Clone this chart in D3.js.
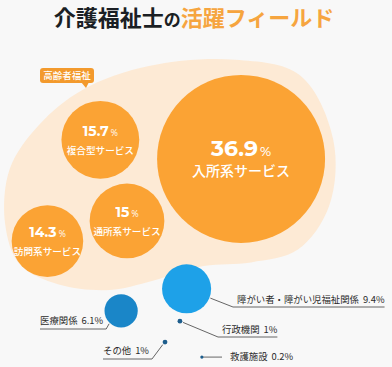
<!DOCTYPE html>
<html>
<head>
<meta charset="utf-8">
<script src="https://cdn.jsdelivr.net/npm/d3@7"></script>
<style>
  html, body { margin: 0; padding: 0; background: #f8f8f8; }
  svg { display: block; font-family: "Noto Sans CJK JP", "Noto Sans", sans-serif; }
</style>
</head>
<body>
<svg id="chart" width="392" height="367"></svg>
<script>
// data
const categories = ['入所系サービス', '複合型サービス', '通所系サービス', '訪問系サービス',
  '障がい者・障がい児福祉関係', '医療関係', '行政機関', 'その他', '救護施設'];
const shares = [36.9, 15.7, 15, 14.3, 9.4, 6.1, 1, 1, 0.2];
const groups = ['elderly', 'elderly', 'elderly', 'elderly', 'other', 'other', 'other', 'other', 'other'];
const groupLabel = '高齢者福祉';

// layout (percent of width / height)
const posX = [61.5, 25.6, 32.4, 12.1, 47.6, 30.9, 45.9, 42.1, 51.5];
const posY = [43.3, 38.1, 60.2, 65.7, 78.7, 84.7, 87.5, 93.2, 97.3];
const blobX = [60, 76.5, 85, 84, 76, 64, 52, 39, 28, 15, 5, 1.3, 2.5, 10, 21, 38];
const blobY = [16.3, 20.5, 38, 56, 68, 71.5, 72.5, 76.5, 79, 77.5, 72, 61, 46, 34, 24.5, 18];

const W = 392, H = 367;
const svg = d3.select('#chart');
const x = d3.scaleLinear().domain([0, 100]).range([0, W]);
const y = d3.scaleLinear().domain([0, 100]).range([0, H]);
const r = d3.scalePow().exponent(0.9).domain([0, 36.9]).range([0, 84]);
const dotR = d3.scaleLinear().domain([0.2, 1]).range([1.6, 2.4]);
const radius = v => v < 2 ? dotR(v) : r(v);

const nodes = categories.map((c, i) => ({
  name: c, value: shares[i], group: groups[i], x: x(posX[i]), y: y(posY[i]), r: radius(shares[i])
}));

// title
const title = svg.append('text')
  .attr('x', W / 2 - 2)
  .attr('y', 26)
  .attr('text-anchor', 'middle')
  .style('font-weight', 700)
  .style('font-size', '22px');
title.append('tspan').attr('fill', '#1b1f24').text('介護福祉士');
title.append('tspan').attr('fill', '#1b1f24').style('font-size', '17px').text('の');
title.append('tspan').attr('fill', '#f6a53f').text('活躍フィールド');

// blob behind elderly group
const blobLine = d3.line()
  .x((d, i) => x(blobX[i]))
  .y((d, i) => y(blobY[i]))
  .curve(d3.curveCatmullRomClosed.alpha(0.5));

svg.append('path')
  .attr('d', blobLine(blobX))
  .attr('fill', '#fdead5');

// group tag
const tag = svg.append('g').attr('transform', 'translate(40,68)');
tag.append('rect')
  .attr('width', 54).attr('height', 15).attr('rx', 3)
  .attr('fill', '#f39a2d');
tag.append('path')
  .attr('d', 'M41,14 L49,14 L46,20 Z')
  .attr('fill', '#f39a2d');
tag.append('text')
  .attr('x', 27).attr('y', 11)
  .attr('text-anchor', 'middle')
  .attr('fill', '#fff')
  .style('font-size', '9.5px')
  .style('font-weight', 500)
  .text(groupLabel);

// elderly bubbles
const elderly = nodes.filter(d => d.group === 'elderly');
const eg = svg.append('g').selectAll('g')
  .data(elderly)
  .enter().append('g')
  .attr('transform', d => 'translate(' + d.x + ',' + d.y + ')');

eg.append('circle')
  .attr('r', d => d.r)
  .attr('fill', '#fba334');

const numSize = d => d.value > 30 ? 22 : 14;
const labSize = d => d.value > 30 ? 14 : 9.6;

const num = eg.append('text')
  .attr('text-anchor', 'middle')
  .attr('y', d => d.value > 30 ? -3 : -4)
  .attr('fill', '#fff')
  .style('font-family', 'Montserrat, "Noto Sans", sans-serif')
  .style('font-weight', 700)
  .style('font-size', d => numSize(d) + 'px');
num.append('tspan').text(d => d.value);
num.append('tspan')
  .attr('dx', 2)
  .style('font-weight', 500)
  .style('font-size', d => (numSize(d) * 0.6) + 'px')
  .text('%');

eg.append('text')
  .attr('text-anchor', 'middle')
  .attr('y', d => d.value > 30 ? 17 : 14)
  .attr('fill', '#fff')
  .style('font-weight', 500)
  .style('font-size', d => labSize(d) + 'px')
  .text(d => d.name);

// other fields
const blues = ['#1ea1e8', '#1a86c8', '#1d5d8c', '#1d5d8c', '#1d5d8c'];
const others = nodes.filter(d => d.group === 'other');

// label text positions and which side the leader comes from
const labelX = [237, 40, 222, 103, 230];
const labelY = [303, 324, 333, 354, 360];
const anchorSide = ['right', 'left', 'right', 'left', 'inline'];

const lineG = svg.append('g')
  .attr('stroke', '#555')
  .attr('stroke-width', 0.9)
  .attr('fill', 'none');

others.forEach((d, i) => {
  const t = svg.append('text')
    .attr('x', labelX[i])
    .attr('y', labelY[i])
    .attr('fill', '#2b2b2b')
    .style('font-size', '9.4px');
  t.append('tspan').text(d.name);
  t.append('tspan').attr('dx', 4).text(d.value + '%');
  const tw = t.node().getComputedTextLength() + 4;

  const tx = anchorSide[i] === 'right' ? labelX[i] - 4 : labelX[i] + tw + 2;
  const angle = Math.atan2(labelY[i] + 4 - d.y, tx - d.x);
  const sx = d.x + Math.cos(angle) * (d.r + 1);
  const sy = d.y + Math.sin(angle) * (d.r + 1);

  if (anchorSide[i] === 'right') {
    lineG.append('path')
      .attr('d', 'M' + sx + ',' + sy + 'L' + (labelX[i] - 4) + ',' + (labelY[i] + 4) + 'L' + (labelX[i] + tw) + ',' + (labelY[i] + 4));
  } else if (anchorSide[i] === 'left') {
    const ux = labelX[i] + tw + 3;
    lineG.append('path')
      .attr('d', 'M' + labelX[i] + ',' + (labelY[i] + 5) + 'L' + ux + ',' + (labelY[i] + 5) + 'L' + sx + ',' + sy);
  } else {
    lineG.append('path')
      .attr('d', 'M' + d.x + ',' + d.y + 'L' + (labelX[i] - 8) + ',' + d.y);
  }
});

svg.append('g').selectAll('circle')
  .data(others)
  .enter().append('circle')
  .attr('cx', d => d.x)
  .attr('cy', d => d.y)
  .attr('r', d => d.r)
  .attr('fill', (d, i) => blues[i]);
</script>
</body>
</html>
